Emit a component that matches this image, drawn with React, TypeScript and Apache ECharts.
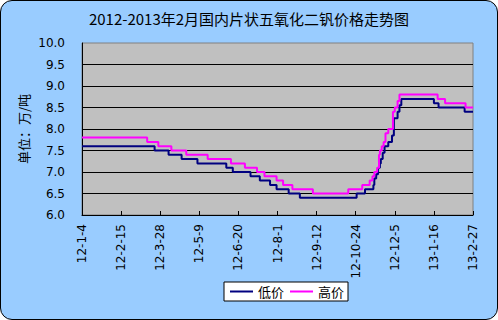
import React, { useEffect, useRef } from "react";
import * as echarts from "echarts";

const titleText = "2012-2013年2月国内片状五氧化二钒价格走势图";
const yAxisName = "单位：万/吨";
const seriesNames = ["低价", "高价"];
// x tick labels, one every 42 days starting 2012-01-04
const tickLabels = ["12-1-4", "12-2-15", "12-3-28", "12-5-9", "12-6-20", "12-8-1", "12-9-12", "12-10-24", "12-12-5", "13-1-16", "13-2-27"];
const tickStepDays = 42;
const yTicks = [6.0, 6.5, 7.0, 7.5, 8.0, 8.5, 9.0, 9.5, 10.0];

// price change points: days since 2012-01-04, price (万元/吨)
const lowDays = [0, 78, 93, 107, 124, 155, 162, 181, 191, 202, 209, 222, 234, 295, 304, 313, 314, 316, 318, 320, 321, 323, 325, 329, 333, 335, 339, 341, 343, 378, 383, 411, 420];
const lowValues = [7.6, 7.5, 7.4, 7.3, 7.2, 7.1, 7.0, 6.9, 6.8, 6.7, 6.6, 6.5, 6.4, 6.5, 6.6, 6.7, 6.85, 6.95, 7.1, 7.2, 7.3, 7.45, 7.6, 7.7, 7.85, 8.25, 8.4, 8.55, 8.7, 8.6, 8.5, 8.4, 8.4];
const highDays = [0, 70, 82, 96, 112, 135, 160, 175, 188, 196, 209, 216, 226, 248, 286, 301, 309, 312, 314, 317, 319, 320, 322, 324, 326, 329, 334, 336, 339, 341, 382, 390, 412, 420];
const highValues = [7.8, 7.7, 7.6, 7.5, 7.4, 7.3, 7.2, 7.1, 7.0, 6.9, 6.8, 6.7, 6.6, 6.5, 6.6, 6.7, 6.8, 6.9, 7.0, 7.1, 7.4, 7.5, 7.6, 7.7, 7.9, 8.0, 8.4, 8.5, 8.65, 8.8, 8.7, 8.6, 8.5, 8.5];

const CJK = "'Noto Sans CJK SC', 'Noto Sans', sans-serif";

export default function App() {
  const ref = useRef<HTMLDivElement>(null);
  useEffect(() => {
    if (!ref.current) return;
    const chart = echarts.init(ref.current, null, { renderer: "svg" });
    const lowData = lowDays.map((d, i) => [d, lowValues[i]]);
    const highData = highDays.map((d, i) => [d, highValues[i]]);
    chart.setOption({
      animation: false,
      backgroundColor: "transparent",
      title: {
        text: titleText,
        left: "center",
        top: 11,
        padding: 0,
        textStyle: { fontFamily: CJK, fontSize: 15, fontWeight: "normal", color: "#000" },
      },
      grid: {
        left: 82,
        right: 25,
        top: 43,
        bottom: 105,
        show: true,
        backgroundColor: "#C0C0C0",
        borderColor: "#808080",
        borderWidth: 1,
      },
      legend: {
        data: seriesNames,
        left: 224,
        top: 282,
        orient: "horizontal",
        icon: "rect",
        itemWidth: 23,
        itemHeight: 2,
        itemGap: 6,
        padding: [3, 4, 3, 6],
        backgroundColor: "#FFFFFF",
        borderColor: "#000000",
        borderWidth: 1,
        borderRadius: 0,
        textStyle: { fontFamily: CJK, fontSize: 13, color: "#000" },
      },
      xAxis: {
        type: "value",
        min: 0,
        max: tickStepDays * (tickLabels.length - 1),
        interval: tickStepDays,
        axisLine: { show: true, lineStyle: { color: "#000", width: 1 } },
        axisTick: { show: true, inside: true, length: 4, lineStyle: { color: "#000" } },
        splitLine: { show: false },
        axisLabel: {
          rotate: 90,
          margin: 9,
          fontFamily: "'DejaVu Sans', sans-serif",
          fontSize: 12,
          color: "#000",
          formatter: (v: number) => tickLabels[Math.round(v / tickStepDays)] ?? "",
        },
      },
      yAxis: {
        type: "value",
        min: yTicks[0],
        max: yTicks[yTicks.length - 1],
        interval: 0.5,
        name: yAxisName,
        nameLocation: "middle",
        nameGap: 52,
        nameMoveOverlap: false,
        nameTextStyle: { fontFamily: CJK, fontSize: 13, color: "#000" },
        axisLine: { show: true, lineStyle: { color: "#000", width: 1 } },
        axisTick: { show: false },
        splitLine: { show: true, showMaxLine: false, lineStyle: { color: "#000", width: 1 } },
        axisLabel: {
          margin: 17,
          fontFamily: "'DejaVu Sans', sans-serif",
          fontSize: 12,
          color: "#000",
          formatter: (v: number) => v.toFixed(1),
        },
      },
      series: [
        {
          name: seriesNames[0],
          type: "line",
          step: "end",
          data: lowData,
          symbol: "none",
          lineStyle: { color: "#000080", width: 2 },
          itemStyle: { color: "#000080" },
        },
        {
          name: seriesNames[1],
          type: "line",
          step: "end",
          data: highData,
          symbol: "none",
          lineStyle: { color: "#FF00FF", width: 2 },
          itemStyle: { color: "#FF00FF" },
        },
      ],
    });
    return () => chart.dispose();
  }, []);
  return (
    <div
      style={{
        position: "fixed",
        left: 0,
        top: 0,
        width: 498,
        height: 320,
        boxSizing: "border-box",
        border: "1px solid #000",
        borderRadius: 12,
        background: "#99CCFF",
      }}
    >
      <div ref={ref} style={{ position: "absolute", left: -1, top: -1, width: 498, height: 320 }} />
    </div>
  );
}
